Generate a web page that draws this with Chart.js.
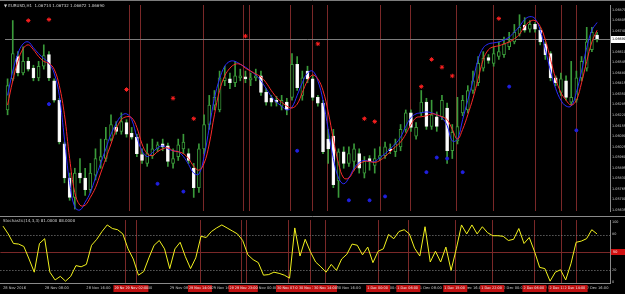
<!DOCTYPE html>
<html><head><meta charset="utf-8">
<script src="https://cdn.jsdelivr.net/npm/chart.js@4.4.0/dist/chart.umd.min.js"></script>
<style>
html,body{margin:0;padding:0;background:#000;width:625px;height:294px;overflow:hidden}
#w1{position:absolute;left:0;top:0;width:625px;height:216px}
#w2{position:absolute;left:0;top:216px;width:625px;height:78px}
</style></head><body>
<div id="w1"><canvas id="c1" width="625" height="216"></canvas></div>
<div id="w2"><canvas id="c2" width="625" height="78"></canvas></div>
<script>
// ---------- DATA ----------
const symbolTitle = "EURUSD,H1";
const oscTitle = "Stochastic(14,3,3)";
const open = [1.06252,1.06444,1.06582,1.06480,1.06552,1.06510,1.06450,1.06522,1.06594,1.06432,
1.06312,1.06042,1.05832,1.05712,1.05862,1.05832,1.05760,1.05850,1.05940,1.05952,
1.06072,1.06144,1.06120,1.06174,1.06108,1.06084,1.05976,1.05922,1.05970,1.06012,
1.06042,1.06030,1.05922,1.05964,1.06012,1.05982,1.05892,1.05772,1.06012,1.06162,
1.06282,1.06252,1.06432,1.06444,1.06420,1.06450,1.06456,1.06438,1.06450,1.06462,
1.06360,1.06324,1.06312,1.06276,1.06300,1.06330,1.06534,1.06342,1.06492,1.06444,
1.06330,1.06294,1.06072,1.06090,1.05814,1.05994,1.05922,1.05934,1.05982,1.05862,
1.05952,1.05910,1.05952,1.05970,1.06012,1.05994,1.06024,1.06132,1.06234,1.06090,
1.06234,1.06300,1.06150,1.06210,1.06210,1.06264,1.06000,1.06060,1.06234,1.06252,
1.06372,1.06420,1.06510,1.06576,1.06540,1.06582,1.06594,1.06642,1.06672,1.06720,
1.06774,1.06750,1.06780,1.06744,1.06660,1.06600,1.06450,1.06360,1.06432,1.06300,
1.06312,1.06450,1.06510,1.06624,1.06714];
const high = [1.06444,1.06804,1.06612,1.06642,1.06576,1.06528,1.06552,1.06654,1.06612,1.06444,
1.06324,1.06054,1.05862,1.05892,1.05952,1.05892,1.05922,1.06012,1.06072,1.06144,
1.06222,1.06180,1.06234,1.06192,1.06144,1.06102,1.06012,1.06042,1.06072,1.06054,
1.06072,1.06048,1.06012,1.06072,1.06102,1.06012,1.05922,1.06042,1.06222,1.06342,
1.06372,1.06492,1.06522,1.06480,1.06552,1.06504,1.06492,1.06480,1.06504,1.06492,
1.06384,1.06342,1.06336,1.06342,1.06324,1.06600,1.06582,1.06492,1.06522,1.06462,
1.06342,1.06312,1.06132,1.06132,1.06012,1.06024,1.06024,1.06042,1.06012,1.05964,
1.05970,1.06012,1.06024,1.06054,1.06042,1.06072,1.06162,1.06252,1.06252,1.06174,
1.06372,1.06324,1.06312,1.06240,1.06342,1.06294,1.06162,1.06330,1.06342,1.06402,
1.06492,1.06582,1.06612,1.06594,1.06642,1.06672,1.06702,1.06732,1.06780,1.06840,
1.06822,1.06804,1.06792,1.06762,1.06672,1.06612,1.06462,1.06480,1.06462,1.06552,
1.06492,1.06582,1.06762,1.06762,1.06732];
const low = [1.06222,1.06432,1.06462,1.06468,1.06492,1.06432,1.06432,1.06504,1.06432,1.06300,
1.06042,1.05802,1.05694,1.05640,1.05802,1.05724,1.05742,1.05820,1.05892,1.05934,
1.06060,1.06102,1.06102,1.06084,1.06072,1.05964,1.05922,1.05904,1.05952,1.05994,
1.06000,1.05904,1.05892,1.05940,1.05982,1.05922,1.05712,1.05742,1.05982,1.06132,
1.06252,1.06240,1.06402,1.06384,1.06396,1.06432,1.06420,1.06402,1.06432,1.06342,
1.06282,1.06276,1.06276,1.06252,1.06222,1.06312,1.06372,1.06312,1.06420,1.06312,
1.06276,1.05982,1.05922,1.05772,1.05712,1.05892,1.05904,1.05880,1.05862,1.05832,
1.05880,1.05862,1.05940,1.05952,1.05982,1.05964,1.06000,1.06114,1.06120,1.06072,
1.06216,1.06132,1.06132,1.06120,1.06192,1.05922,1.05952,1.06042,1.06216,1.06234,
1.06354,1.06402,1.06492,1.06540,1.06522,1.06564,1.06576,1.06624,1.06660,1.06708,
1.06732,1.06732,1.06732,1.06654,1.06564,1.06432,1.06402,1.06342,1.06312,1.06282,
1.06300,1.06432,1.06492,1.06612,1.06672];
const close = [1.06402,1.06600,1.06480,1.06552,1.06504,1.06450,1.06522,1.06588,1.06450,1.06312,
1.06054,1.05832,1.05712,1.05862,1.05832,1.05760,1.05862,1.05952,1.05964,1.06072,
1.06162,1.06120,1.06180,1.06102,1.06084,1.05982,1.05940,1.05982,1.06012,1.06036,
1.06024,1.05934,1.05952,1.06036,1.06054,1.05940,1.05772,1.06012,1.06162,1.06282,
1.06330,1.06450,1.06450,1.06420,1.06462,1.06462,1.06444,1.06450,1.06462,1.06360,
1.06300,1.06300,1.06300,1.06312,1.06252,1.06534,1.06390,1.06450,1.06444,1.06330,
1.06294,1.05994,1.06012,1.05790,1.05994,1.05922,1.05982,1.06012,1.05892,1.05934,
1.05934,1.05952,1.05970,1.06024,1.06000,1.06042,1.06132,1.06234,1.06144,1.06144,
1.06300,1.06150,1.06222,1.06150,1.06312,1.06000,1.06114,1.06150,1.06312,1.06372,
1.06432,1.06540,1.06570,1.06558,1.06600,1.06612,1.06660,1.06672,1.06732,1.06762,
1.06744,1.06780,1.06750,1.06672,1.06594,1.06450,1.06420,1.06444,1.06330,1.06330,
1.06450,1.06552,1.06672,1.06732,1.06690];
const maRed = [1.06282,1.06432,1.06552,1.06630,1.06654,1.06624,1.06582,1.06552,1.06540,1.06504,
1.06402,1.06222,1.05952,1.05742,1.05664,1.05664,1.05712,1.05772,1.05862,1.05952,
1.06042,1.06132,1.06192,1.06210,1.06204,1.06144,1.06042,1.05982,1.05970,1.05994,
1.06012,1.06018,1.06000,1.05994,1.05982,1.05952,1.05904,1.05880,1.05922,1.06042,
1.06222,1.06372,1.06462,1.06510,1.06534,1.06534,1.06510,1.06492,1.06474,1.06456,
1.06420,1.06372,1.06330,1.06300,1.06276,1.06264,1.06288,1.06360,1.06432,1.06468,
1.06444,1.06372,1.06240,1.06072,1.05922,1.05832,1.05832,1.05880,1.05916,1.05934,
1.05934,1.05928,1.05940,1.05964,1.05994,1.06024,1.06054,1.06102,1.06162,1.06204,
1.06210,1.06216,1.06228,1.06222,1.06210,1.06192,1.06132,1.06072,1.06132,1.06222,
1.06324,1.06444,1.06564,1.06624,1.06642,1.06648,1.06660,1.06672,1.06690,1.06720,
1.06768,1.06798,1.06804,1.06768,1.06684,1.06564,1.06444,1.06360,1.06312,1.06282,
1.06312,1.06420,1.06552,1.06672,1.06744];
const maBlue = [1.06342,1.06492,1.06600,1.06660,1.06672,1.06636,1.06600,1.06570,1.06540,1.06480,
1.06342,1.06072,1.05802,1.05652,1.05634,1.05682,1.05742,1.05832,1.05922,1.06012,
1.06102,1.06168,1.06216,1.06228,1.06192,1.06084,1.06000,1.05964,1.05988,1.06018,
1.06030,1.06012,1.06000,1.05994,1.05964,1.05916,1.05862,1.05856,1.05964,1.06144,
1.06324,1.06444,1.06522,1.06552,1.06552,1.06534,1.06516,1.06492,1.06468,1.06432,
1.06384,1.06336,1.06300,1.06276,1.06252,1.06270,1.06342,1.06420,1.06480,1.06492,
1.06432,1.06312,1.06132,1.05952,1.05832,1.05796,1.05832,1.05892,1.05928,1.05940,
1.05934,1.05934,1.05958,1.05982,1.06012,1.06042,1.06084,1.06150,1.06204,1.06228,
1.06234,1.06240,1.06234,1.06222,1.06204,1.06156,1.06060,1.06072,1.06192,1.06312,
1.06432,1.06564,1.06636,1.06660,1.06666,1.06672,1.06684,1.06702,1.06732,1.06768,
1.06810,1.06828,1.06816,1.06744,1.06624,1.06492,1.06384,1.06312,1.06276,1.06276,
1.06360,1.06492,1.06636,1.06744,1.06792];
const sellIdx   = [4,8,23,32,36,46,60,69,71,80,82,84,86,95];
const sellPrice = [1.06804,1.06810,1.06378,1.06324,1.06198,1.06708,1.06660,1.06198,1.06180,1.06396,1.06564,1.06516,1.06462,1.06816];
const buyIdx    = [8,29,34,56,66,70,73,81,83,85,88,97,110];
const buyPrice  = [1.06288,1.05796,1.05748,1.06000,1.05694,1.05694,1.05718,1.05868,1.05958,1.05952,1.05868,1.06396,1.06126];
const eventBars = [23.5,25.6,37.8,45.6,46.6,54.7,58.9,61.8,72,77.8,86.8,93.9,102,107,109.9];
const osc = [94,81,65,64,60,39,17,65,73,17,4,10,2,10,28,26,30,62,72,85,
96,90,88,81,56,39,12,18,41,62,70,56,23,56,67,43,23,41,77,75,
85,91,96,91,86,81,70,46,38,33,12,13,17,15,12,7,91,44,72,51,
34,26,17,30,20,39,47,64,62,46,59,33,52,56,80,73,85,88,81,57,
44,93,34,52,34,59,20,56,96,81,96,81,93,83,78,78,77,70,72,90,
65,75,52,25,23,2,17,21,4,31,67,69,73,88,81];
const oscLevels = [20, 80];
const oscMidLevel = 50;
const priceTicks = [1.06870,1.06805,1.06740,1.06675,1.06610,1.06545,1.06480,1.06415,1.06350,1.06285,
1.06220,1.06155,1.06090,1.06025,1.05960,1.05895,1.05830,1.05765,1.05700,1.05635];
const oscTicks = [100,80,20,0];
const timeLabels = ["28 Nov 2016","28 Nov 08:00","28 Nov 16:00","29 Nov 00:00","29 Nov 08:00","29 Nov 16:00",
"30 Nov 00:00","30 Nov 08:00","30 Nov 16:00","1 Dec 00:00","1 Dec 08:00","1 Dec 16:00","2 Dec 00:00","2 Dec 08:00","2 Dec 16:00"];
const tickEvery = 8;
const startTime = Date.UTC(2016,10,28,0,0);
const emptySlots = 2;

// ---------- BUILD ----------
const N = close.length + emptySlots;
const labels = Array.from({length:N},(_,i)=> (i%tickEvery===0 && timeLabels[i/tickEvery]) ? timeLabels[i/tickEvery] : '');
const bull = close.map((c,i)=>c>=open[i]);
const wickData = high.map((h,i)=>[low[i],h]);
const bodyData = open.map((o,i)=>[Math.min(o,close[i]),Math.max(o,close[i])]);
const sellData = Array(N).fill(null); sellIdx.forEach((k,j)=>sellData[k]=sellPrice[j]);
const buyData = Array(N).fill(null); buyIdx.forEach((k,j)=>buyData[k]=buyPrice[j]);
const MON = ['Jan','Feb','Mar','Apr','May','Jun','Jul','Aug','Sep','Oct','Nov','Dec'];
function barTime(b){const d=new Date(startTime+Math.round(b)*3600000);return d.getUTCDate()+' '+MON[d.getUTCMonth()]+' '+String(d.getUTCHours()).padStart(2,'0')+':00';}

const GREEN='#3a9a3a', GRID='#8a8a8a', VCOL='#7a2828';
const tickFont={family:'DejaVu Sans',size:3.4};

function drawEventLines(chart){
  const {ctx,chartArea:a,scales:{x}}=chart;
  const p0=x.getPixelForValue(0), st=x.getPixelForValue(1)-p0;
  ctx.save();ctx.strokeStyle=VCOL;ctx.lineWidth=1;
  eventBars.forEach(b=>{const px=Math.round(p0+b*st)+0.5;ctx.beginPath();ctx.moveTo(px,a.top);ctx.lineTo(px,a.bottom);ctx.stroke();});
  ctx.restore();
}

const mainPlugin={id:'mainDeco',
  beforeDatasetsDraw(chart){
    drawEventLines(chart);
    const {ctx,chartArea:a,scales:{y}}=chart;
    const py=Math.round(y.getPixelForValue(close[close.length-1]))+0.5;
    ctx.save();ctx.strokeStyle='#7c7c7c';ctx.lineWidth=1;
    ctx.beginPath();ctx.moveTo(a.left,py);ctx.lineTo(a.right,py);ctx.stroke();
    ctx.beginPath();ctx.moveTo(0,0.5);ctx.lineTo(625,0.5);ctx.stroke();
    ctx.restore();
  },
  afterDraw(chart){
    const {ctx,chartArea:a,scales:{y}}=chart;
    const n=close.length-1;
    ctx.save();
    ctx.fillStyle='#d0d0d0';ctx.font='4px "DejaVu Sans"';ctx.textBaseline='middle';
    ctx.fillText('\u25BC '+symbolTitle+'  '+open[n].toFixed(5)+' '+high[n].toFixed(5)+' '+low[n].toFixed(5)+' '+close[n].toFixed(5),4,6);
    const py=Math.round(y.getPixelForValue(close[n]));
    ctx.fillStyle='#ffffff';ctx.fillRect(a.right+1,py-3,14,7);
    ctx.fillStyle='#000';ctx.font=tickFont.size+'px "DejaVu Sans"';ctx.fillText(close[n].toFixed(5),a.right+2,py+0.5);
    ctx.restore();
  }
};

const oscPlugin={id:'oscDeco',
  beforeDatasetsDraw(chart){
    drawEventLines(chart);
    const {ctx,chartArea:a,scales:{y}}=chart;
    ctx.save();
    ctx.strokeStyle='#8a8a8a';ctx.lineWidth=1;ctx.setLineDash([1,2]);
    oscLevels.forEach(v=>{const py=Math.round(y.getPixelForValue(v))+0.5;ctx.beginPath();ctx.moveTo(a.left,py);ctx.lineTo(a.right,py);ctx.stroke();});
    ctx.setLineDash([]);ctx.strokeStyle=VCOL;
    const pm=Math.round(y.getPixelForValue(oscMidLevel))+0.5;ctx.beginPath();ctx.moveTo(a.left,pm);ctx.lineTo(a.right,pm);ctx.stroke();
    ctx.strokeStyle='#8a8a8a';ctx.beginPath();ctx.moveTo(0,0.5);ctx.lineTo(625,0.5);ctx.stroke();
    ctx.restore();
  },
  afterDraw(chart){
    const {ctx,chartArea:a,scales:{x,y}}=chart;
    ctx.save();
    ctx.fillStyle='#d0d0d0';ctx.font='4px "DejaVu Sans"';ctx.textBaseline='middle';
    const n=osc.length-1;
    ctx.fillText(oscTitle+' '+osc[n].toFixed(4)+' '+osc[n-1].toFixed(4),3,5);
    const pm=Math.round(y.getPixelForValue(oscMidLevel));
    ctx.fillStyle='#d01010';ctx.fillRect(a.right+1,pm-3,14,6);
    ctx.fillStyle='#fff';ctx.font=tickFont.size+'px "DejaVu Sans"';ctx.fillText(oscMidLevel.toFixed(0),a.right+3,pm);
    const p0=x.getPixelForValue(0), st=x.getPixelForValue(1)-p0;
    eventBars.forEach(b=>{const px=p0+b*st;ctx.fillStyle='#c01010';ctx.fillRect(px-12,a.bottom+2,24,7);
      ctx.fillStyle='#f0f0f0';ctx.fillText(barTime(b),px-11,a.bottom+5.5);});
    ctx.restore();
  }
};

Chart.defaults.font.family='DejaVu Sans';
new Chart(document.getElementById('c1'),{
  type:'bar',
  data:{labels,datasets:[
    {type:'line',data:sellData,showLine:false,pointStyle:'star',pointRadius:2.2,pointBorderColor:'#ff2020',pointBorderWidth:1,order:1},
    {type:'line',data:buyData,showLine:false,pointStyle:'circle',pointRadius:1.5,pointBackgroundColor:'#2020e0',pointBorderColor:'#2020e0',order:1},
    {type:'line',data:maRed,borderColor:'#ff2a2a',borderWidth:1,pointRadius:0,tension:0.4,order:2},
    {type:'line',data:maBlue,borderColor:'#2a2aff',borderWidth:1,pointRadius:0,tension:0.4,order:3},
    {data:bodyData,grouped:false,barThickness:3,minBarLength:1,borderWidth:1,borderSkipped:false,
     backgroundColor:bull.map(b=>b?'#000':'#ffffff'),borderColor:bull.map(b=>b?GREEN:'#f4f4f4'),order:4},
    {data:wickData,grouped:false,barThickness:1,backgroundColor:GREEN,borderWidth:0,order:5}
  ]},
  options:{responsive:false,animation:false,devicePixelRatio:1,
    layout:{padding:{top:2,bottom:2,left:0,right:0}},
    plugins:{legend:{display:false},tooltip:{enabled:false}},
    scales:{
      x:{display:false,offset:true,grid:{display:false}},
      y:{position:'right',min:1.05628,max:1.06900,
        afterFit(s){s.width=15;},
        afterBuildTicks(s){s.ticks=priceTicks.map(v=>({value:v}));},
        grid:{display:false,drawTicks:false},border:{display:true,color:GRID},
        ticks:{color:'#c8c8c8',font:tickFont,padding:2,callback:v=>Number(v).toFixed(5)}}
    }},
  plugins:[mainPlugin]
});

new Chart(document.getElementById('c2'),{
  type:'line',
  data:{labels,datasets:[{data:osc,borderColor:'#f2f21e',borderWidth:1,pointRadius:0,tension:0}]},
  options:{responsive:false,animation:false,devicePixelRatio:1,
    layout:{padding:{top:2,bottom:0,left:0,right:0}},
    plugins:{legend:{display:false},tooltip:{enabled:false}},
    scales:{
      x:{offset:true,grid:{display:false,drawTicks:false},border:{display:true,color:GRID},
        afterFit(s){s.height=11;},
        ticks:{autoSkip:false,maxRotation:0,minRotation:0,align:'start',color:'#c8c8c8',font:{family:'DejaVu Sans',size:3.6},padding:3,
          callback:(v,i)=>labels[i]}},
      y:{position:'right',min:-1.1,max:104.2,
        afterFit(s){s.width=15;},
        afterBuildTicks(s){s.ticks=oscTicks.map(v=>({value:v}));},
        grid:{display:false,drawTicks:false},border:{display:true,color:GRID},
        ticks:{color:'#c8c8c8',font:tickFont,padding:2,callback:v=>String(v)}}
    }},
  plugins:[oscPlugin]
});
</script></body></html>
